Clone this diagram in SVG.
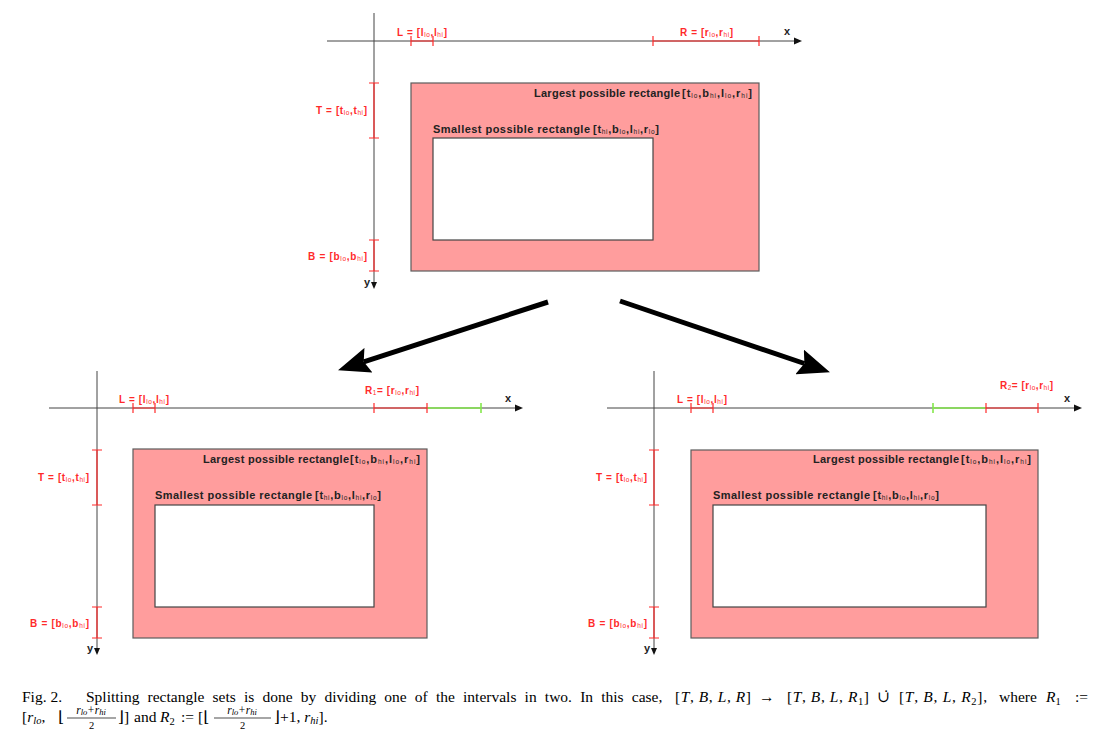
<svg xmlns="http://www.w3.org/2000/svg" width="1114" height="750" viewBox="0 0 1114 750">
<style>
.axis{stroke:#444;stroke-width:1;fill:none}
.ah{fill:#111}
.red{stroke:#ff2a2a;stroke-width:1.2;fill:none}
.grn{stroke:#84e84c;stroke-width:1.6;fill:none}
.big{fill:#ff9d9d;stroke:#5c5c5c;stroke-width:1.2}
.small{fill:#fff;stroke:#444;stroke-width:1.2}
.lbl{font-family:"Liberation Sans",Arial,sans-serif;font-weight:bold;font-size:11px;fill:#222}
.rl{font-family:"Liberation Sans",Arial,sans-serif;font-weight:bold;font-size:10px;fill:#ff2a2a}
.sub{font-size:6.5px;font-weight:normal}
.cap{font-family:"Liberation Serif","Times New Roman","DejaVu Serif",serif;font-size:15.5px;fill:#000}
.it{font-style:italic}
.s1{font-size:10.5px}
.n1{font-size:11.5px}
.n2{font-size:8.5px}
.frac{stroke:#000;stroke-width:0.7}
.conn{stroke:#000;stroke-width:5;fill:none}
</style>
<defs>
<marker id="bigarrow" viewBox="0 0 32 26" markerWidth="32" markerHeight="26" refX="5" refY="13" orient="auto" markerUnits="userSpaceOnUse">
<path d="M0,0 L32,13 L0,26 L5,13 Z" fill="#000"/>
</marker>
</defs>

<!-- ===== TOP DIAGRAM ===== -->
<g id="top" transform="translate(374,41)">
 <g id="top-axes">
  <line class="axis" x1="-47" y1="0" x2="421" y2="0"/>
  <polygon class="ah" points="428,0 420,-3.5 420,3.5"/>
  <line class="axis" x1="0" y1="-28" x2="0" y2="242"/>
  <polygon class="ah" points="0,248 -3,241 3,241"/>
  <text class="lbl" x="410" y="-6">x</text>
  <text class="lbl" x="-10" y="245">y</text>
 </g>
 <g id="top-L">
  <path class="red" d="M37,0H59M37,-5V5M59,-5V5"/>
  <text class="rl" x="23" y="-5" textLength="50">L = [l<tspan class="sub" dy="1">lo</tspan><tspan dy="-1">,l</tspan><tspan class="sub" dy="1">hi</tspan><tspan dy="-1">]</tspan></text>
 </g>
 <g id="top-R">
  <path class="red" d="M279,0H385M279,-5V5M385,-5V5"/>
  <text class="rl" x="306" y="-5" textLength="53">R = [r<tspan class="sub" dy="1">lo</tspan><tspan dy="-1">,r</tspan><tspan class="sub" dy="1">hi</tspan><tspan dy="-1">]</tspan></text>
 </g>
 <g id="top-T">
  <path class="red" d="M0,42V97M-5,42H5M-5,97H5"/>
  <text class="rl" x="-58" y="73" textLength="51">T = [t<tspan class="sub" dy="1">lo</tspan><tspan dy="-1">,t</tspan><tspan class="sub" dy="1">hi</tspan><tspan dy="-1">]</tspan></text>
 </g>
 <g id="top-B">
  <path class="red" d="M0,199V230M-5,199H5M-5,230H5"/>
  <text class="rl" x="-66" y="219" textLength="59">B = [b<tspan class="sub" dy="1">lo</tspan><tspan dy="-1">,b</tspan><tspan class="sub" dy="1">hi</tspan><tspan dy="-1">]</tspan></text>
 </g>
 <g id="top-largest">
  <rect class="big" x="37" y="42" width="348" height="188"/>
  <text class="lbl" x="160" y="56" textLength="146">Largest possible rectangle</text>
  <text class="lbl" x="308" y="56" textLength="70">[t<tspan class="sub" dy="1">lo</tspan><tspan dy="-1">,b</tspan><tspan class="sub" dy="1">hi</tspan><tspan dy="-1">,l</tspan><tspan class="sub" dy="1">lo</tspan><tspan dy="-1">,r</tspan><tspan class="sub" dy="1">hi</tspan><tspan dy="-1">]</tspan></text>
 </g>
 <g id="top-smallest">
  <rect class="small" x="59" y="97" width="220" height="102"/>
  <text class="lbl" x="59" y="92" textLength="157">Smallest possible rectangle</text>
  <text class="lbl" x="219" y="92" textLength="66">[t<tspan class="sub" dy="1">hi</tspan><tspan dy="-1">,b</tspan><tspan class="sub" dy="1">lo</tspan><tspan dy="-1">,l</tspan><tspan class="sub" dy="1">hi</tspan><tspan dy="-1">,r</tspan><tspan class="sub" dy="1">lo</tspan><tspan dy="-1">]</tspan></text>
 </g>
</g>

<!-- ===== BOTTOM LEFT DIAGRAM ===== -->
<g id="left" transform="translate(97,408)">
 <g id="left-axes">
  <line class="axis" x1="-48" y1="0" x2="419" y2="0"/>
  <polygon class="ah" points="426,0 418,-3.5 418,3.5"/>
  <line class="axis" x1="0" y1="-37" x2="0" y2="241"/>
  <polygon class="ah" points="0,247 -3,240 3,240"/>
  <text class="lbl" x="408" y="-6">x</text>
  <text class="lbl" x="-10" y="244">y</text>
 </g>
 <g id="left-L">
  <path class="red" d="M36,0H58M36,-5V5M58,-5V5"/>
  <text class="rl" x="22" y="-5" textLength="50">L = [l<tspan class="sub" dy="1">lo</tspan><tspan dy="-1">,l</tspan><tspan class="sub" dy="1">hi</tspan><tspan dy="-1">]</tspan></text>
 </g>
 <g id="left-R1">
  <path class="grn" d="M330,0H384M384,-5V5"/>
  <path class="red" d="M277,0H330M277,-5V5M330,-5V5"/>
  <text class="rl" x="268" y="-14" textLength="54">R<tspan class="sub" dy="1">1</tspan><tspan dy="-1">= [r</tspan><tspan class="sub" dy="1">lo</tspan><tspan dy="-1">,r</tspan><tspan class="sub" dy="1">hi</tspan><tspan dy="-1">]</tspan></text>
 </g>
 <g id="left-T">
  <path class="red" d="M0,42V97M-5,42H5M-5,97H5"/>
  <text class="rl" x="-59" y="73" textLength="51">T = [t<tspan class="sub" dy="1">lo</tspan><tspan dy="-1">,t</tspan><tspan class="sub" dy="1">hi</tspan><tspan dy="-1">]</tspan></text>
 </g>
 <g id="left-B">
  <path class="red" d="M0,199V230M-5,199H5M-5,230H5"/>
  <text class="rl" x="-67" y="219" textLength="59">B = [b<tspan class="sub" dy="1">lo</tspan><tspan dy="-1">,b</tspan><tspan class="sub" dy="1">hi</tspan><tspan dy="-1">]</tspan></text>
 </g>
 <g id="left-largest">
  <rect class="big" x="36" y="41" width="294" height="189"/>
  <text class="lbl" x="106" y="55" textLength="146">Largest possible rectangle</text>
  <text class="lbl" x="253" y="55" textLength="70">[t<tspan class="sub" dy="1">lo</tspan><tspan dy="-1">,b</tspan><tspan class="sub" dy="1">hi</tspan><tspan dy="-1">,l</tspan><tspan class="sub" dy="1">lo</tspan><tspan dy="-1">,r</tspan><tspan class="sub" dy="1">hi</tspan><tspan dy="-1">]</tspan></text>
 </g>
 <g id="left-smallest">
  <rect class="small" x="58" y="97" width="219" height="102"/>
  <text class="lbl" x="58" y="91" textLength="157">Smallest possible rectangle</text>
  <text class="lbl" x="218" y="91" textLength="66">[t<tspan class="sub" dy="1">hi</tspan><tspan dy="-1">,b</tspan><tspan class="sub" dy="1">lo</tspan><tspan dy="-1">,l</tspan><tspan class="sub" dy="1">hi</tspan><tspan dy="-1">,r</tspan><tspan class="sub" dy="1">lo</tspan><tspan dy="-1">]</tspan></text>
 </g>
</g>

<!-- ===== BOTTOM RIGHT DIAGRAM ===== -->
<g id="right" transform="translate(654,408)">
 <g id="right-axes">
  <line class="axis" x1="-47" y1="0" x2="421" y2="0"/>
  <polygon class="ah" points="428,0 420,-3.5 420,3.5"/>
  <line class="axis" x1="0" y1="-37" x2="0" y2="241"/>
  <polygon class="ah" points="0,247 -3,240 3,240"/>
  <text class="lbl" x="410" y="-6">x</text>
  <text class="lbl" x="-10" y="244">y</text>
 </g>
 <g id="right-L">
  <path class="red" d="M37,0H59M37,-5V5M59,-5V5"/>
  <text class="rl" x="23" y="-5" textLength="50">L = [l<tspan class="sub" dy="1">lo</tspan><tspan dy="-1">,l</tspan><tspan class="sub" dy="1">hi</tspan><tspan dy="-1">]</tspan></text>
 </g>
 <g id="right-R2">
  <path class="grn" d="M279,0H332M279,-5V5"/>
  <path class="red" d="M332,0H384M332,-5V5M384,-5V5"/>
  <text class="rl" x="346" y="-19" textLength="53">R<tspan class="sub" dy="1">2</tspan><tspan dy="-1">= [r</tspan><tspan class="sub" dy="1">lo</tspan><tspan dy="-1">,r</tspan><tspan class="sub" dy="1">hi</tspan><tspan dy="-1">]</tspan></text>
 </g>
 <g id="right-T">
  <path class="red" d="M0,42V97M-5,42H5M-5,97H5"/>
  <text class="rl" x="-58" y="73" textLength="51">T = [t<tspan class="sub" dy="1">lo</tspan><tspan dy="-1">,t</tspan><tspan class="sub" dy="1">hi</tspan><tspan dy="-1">]</tspan></text>
 </g>
 <g id="right-B">
  <path class="red" d="M0,199V230M-5,199H5M-5,230H5"/>
  <text class="rl" x="-66" y="219" textLength="59">B = [b<tspan class="sub" dy="1">lo</tspan><tspan dy="-1">,b</tspan><tspan class="sub" dy="1">hi</tspan><tspan dy="-1">]</tspan></text>
 </g>
 <g id="right-largest">
  <rect class="big" x="37" y="42" width="347" height="188"/>
  <text class="lbl" x="159" y="55" textLength="146">Largest possible rectangle</text>
  <text class="lbl" x="307" y="55" textLength="70">[t<tspan class="sub" dy="1">lo</tspan><tspan dy="-1">,b</tspan><tspan class="sub" dy="1">hi</tspan><tspan dy="-1">,l</tspan><tspan class="sub" dy="1">lo</tspan><tspan dy="-1">,r</tspan><tspan class="sub" dy="1">hi</tspan><tspan dy="-1">]</tspan></text>
 </g>
 <g id="right-smallest">
  <rect class="small" x="59" y="97" width="273" height="102"/>
  <text class="lbl" x="59" y="91" textLength="157">Smallest possible rectangle</text>
  <text class="lbl" x="219" y="91" textLength="66">[t<tspan class="sub" dy="1">hi</tspan><tspan dy="-1">,b</tspan><tspan class="sub" dy="1">lo</tspan><tspan dy="-1">,l</tspan><tspan class="sub" dy="1">hi</tspan><tspan dy="-1">,r</tspan><tspan class="sub" dy="1">lo</tspan><tspan dy="-1">]</tspan></text>
 </g>
</g>

<!-- ===== CONNECTORS ===== -->
<g id="connectors">
 <line class="conn" x1="548" y1="302" x2="363.7" y2="361.8" marker-end="url(#bigarrow)"/>
 <line class="conn" x1="620" y1="301" x2="804.4" y2="363.5" marker-end="url(#bigarrow)"/>
</g>

<!-- ===== CAPTION ===== -->
<g id="caption">
 <text class="cap" x="22" y="702">Fig. 2.</text>
 <text class="cap" x="86" y="702" word-spacing="4.3">Splitting rectangle sets is done by dividing one of the intervals in two. In this case,</text>
 <text class="cap" x="675" y="702" textLength="76" lengthAdjust="spacing">[<tspan class="it">T</tspan>, <tspan class="it">B</tspan>, <tspan class="it">L</tspan>, <tspan class="it">R</tspan>]</text>
 <text class="cap" x="759" y="702">→</text>
 <text class="cap" x="787" y="702" textLength="82" lengthAdjust="spacing">[<tspan class="it">T</tspan>, <tspan class="it">B</tspan>, <tspan class="it">L</tspan>, <tspan class="it">R</tspan><tspan class="s1" dy="3">1</tspan><tspan dy="-3">]</tspan></text>
 <text class="cap" x="877" y="702">∪̇</text>
 <text class="cap" x="899" y="702" textLength="88" lengthAdjust="spacing">[<tspan class="it">T</tspan>, <tspan class="it">B</tspan>, <tspan class="it">L</tspan>, <tspan class="it">R</tspan><tspan class="s1" dy="3">2</tspan><tspan dy="-3">],</tspan></text>
 <text class="cap" x="999" y="702">where</text>
 <text class="cap" x="1046" y="702"><tspan class="it">R</tspan><tspan class="s1" dy="3">1</tspan></text>
 <text class="cap" x="1075" y="702">:=</text>

 <text class="cap" x="22" y="722">[<tspan class="it">r</tspan><tspan class="it s1" dy="2">lo</tspan><tspan dy="-2">,</tspan></text>
 <text class="cap" x="58" y="722">⌊</text>
 <text class="cap" x="91" y="713.5" text-anchor="middle"><tspan class="it n1">r</tspan><tspan class="it n2" dy="1.5">lo</tspan><tspan class="n1" dy="-1.5" dx="0.5">+</tspan><tspan class="it n1" dx="0.5">r</tspan><tspan class="it n2" dy="1.5">hi</tspan></text>
 <line class="frac" x1="67" y1="718" x2="116" y2="718"/>
 <text class="cap s1" x="91.5" y="728.5" text-anchor="middle">2</text>
 <text class="cap" x="118" y="722">⌋]</text>
 <text class="cap" x="134" y="722">and</text>
 <text class="cap" x="160" y="722"><tspan class="it">R</tspan><tspan class="s1" dy="3">2</tspan></text>
 <text class="cap" x="181" y="722">:=</text>
 <text class="cap" x="198" y="722">[⌊</text>
 <text class="cap" x="242" y="713.5" text-anchor="middle"><tspan class="it n1">r</tspan><tspan class="it n2" dy="1.5">lo</tspan><tspan class="n1" dy="-1.5" dx="0.5">+</tspan><tspan class="it n1" dx="0.5">r</tspan><tspan class="it n2" dy="1.5">hi</tspan></text>
 <line class="frac" x1="214" y1="718" x2="271" y2="718"/>
 <text class="cap s1" x="242.5" y="728.5" text-anchor="middle">2</text>
 <text class="cap" x="274" y="722">⌋+1, <tspan class="it">r</tspan><tspan class="it s1" dy="2">hi</tspan><tspan dy="-2">].</tspan></text>
</g>
</svg>
